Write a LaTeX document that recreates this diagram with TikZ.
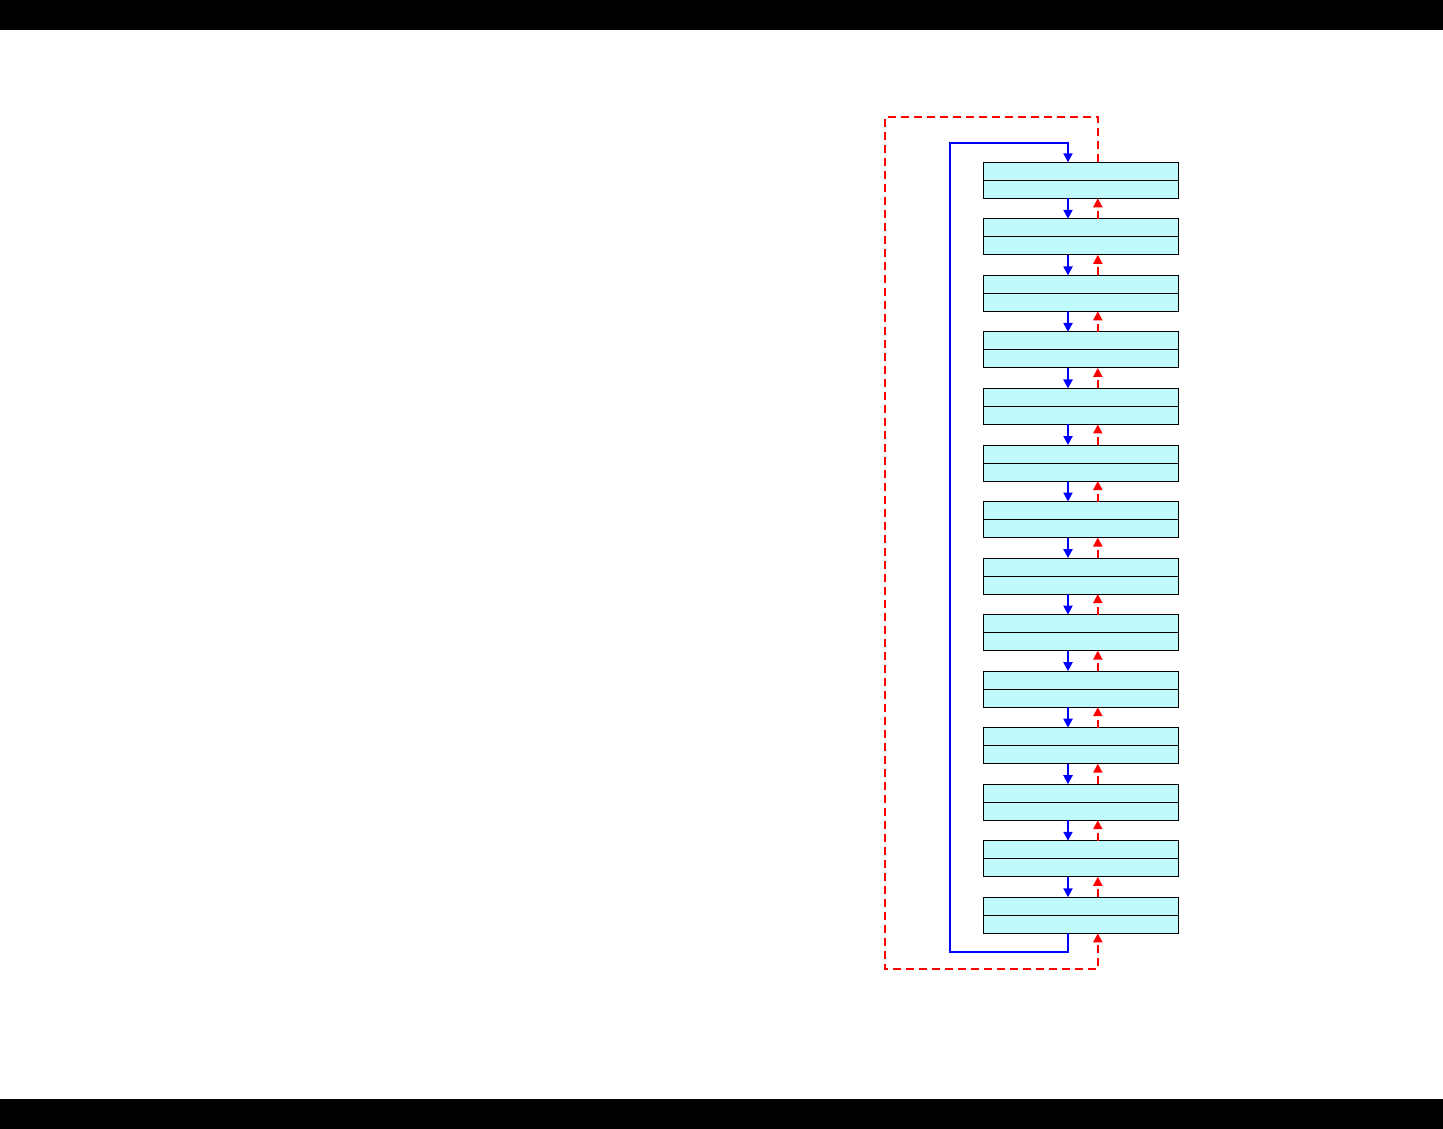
\documentclass[tikz,border=0pt]{standalone}
\usepackage{tikz}
\usetikzlibrary{arrows.meta}
\definecolor{cbox}{HTML}{C0FAFC}
\definecolor{cblue}{HTML}{0000FF}
\definecolor{cred}{HTML}{FF0000}
\tikzset{>={Triangle[length=9pt,width=9pt]}}
\tikzset{
  stage/.style={draw=black,fill=cbox,line width=1pt,minimum width=195pt,minimum height=36pt,inner sep=0pt,outer sep=0pt},
  fwd/.style={->,cblue,line width=2pt},
  bwd/.style={->,cred,line width=2pt,dash pattern=on 8pt off 5pt},
}

\begin{document}
\begin{tikzpicture}[x=1pt,y=-1pt]
\useasboundingbox (0,0) rectangle (1443,1129);

% ===== frame bars =====
\fill[black] (0,0) rectangle (1443,30);
\fill[black] (0,1099) rectangle (1443,1129);

% ===== stages =====
\foreach \i in {1,...,14} {
  \node[stage] (b\i) at (1080.8,{180.3+(\i-1)*56.54}) {};
  \draw[line width=1pt] (b\i.west) -- (b\i.east);
}

% ===== links between neighbours =====
\foreach \i [evaluate=\i as \j using int(\i+1)] in {1,...,13} {
  \draw[fwd] ([xshift=-12.8pt]b\i.south) -- ([xshift=-12.8pt]b\j.north);
  \draw[bwd] ([xshift=17pt]b\j.north) -- ([xshift=17pt]b\i.south);
}

% ===== wrap-around loops =====
\coordinate (blueBL) at (950,952);
\coordinate (blueTL) at (950,143);
\coordinate (redTL) at (885,117);
\coordinate (redBL) at (885,969);
\draw[fwd] ([xshift=-12.8pt]b14.south) |- (blueBL) -- (blueTL) -| ([xshift=-12.8pt]b1.north);
\draw[bwd] ([xshift=17pt]b1.north) |- (redTL) -- (redBL) -| ([xshift=17pt]b14.south);

\end{tikzpicture}
\end{document}
